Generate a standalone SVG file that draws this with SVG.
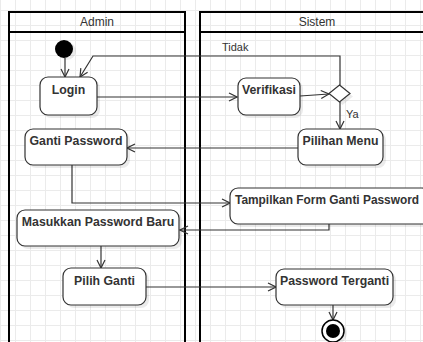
<svg xmlns="http://www.w3.org/2000/svg" width="423" height="342" viewBox="0 0 423 342">
<defs>
<pattern id="grid" width="15" height="15" patternUnits="userSpaceOnUse" x="0" y="10">
<path d="M0 0.5 H15 M0.5 0 V15" fill="none" stroke="#ebebeb" stroke-width="1"/>
</pattern>
<marker id="arr" markerWidth="10" markerHeight="10" refX="9" refY="5" orient="auto" markerUnits="userSpaceOnUse">
<path d="M1 1 L9 5 L1 9" fill="none" stroke="#333" stroke-width="1.2"/>
</marker>
</defs>
<style>
.lane{fill:none;stroke:#000;stroke-width:2}
.hdr{font-family:"Liberation Sans",Arial,sans-serif;font-size:12px;fill:#333;text-anchor:middle}
.box{fill:#fff;stroke:#333;stroke-width:1.2}
.sh{fill:#000;opacity:0.08}
.lbl{font-family:"Liberation Sans",Arial,sans-serif;font-size:12.3px;font-weight:bold;fill:#333;text-anchor:middle}
.sm{font-family:"Liberation Sans",Arial,sans-serif;font-size:11px;fill:#333}
.edge{fill:none;stroke:#333;stroke-width:1.2;marker-end:url(#arr)}
</style>
<rect width="423" height="342" fill="#fff"/>
<rect width="423" height="342" fill="url(#grid)"/>
<g id="lane-admin">
<rect class="lane" x="9" y="12" width="176" height="340"/>
<line class="lane" x1="9" y1="32" x2="185" y2="32"/>
<text class="hdr" x="97" y="26">Admin</text>
</g>
<g id="lane-sistem">
<rect class="lane" x="200" y="12" width="240" height="340"/>
<line class="lane" x1="200" y1="32" x2="440" y2="32"/>
<text class="hdr" x="317" y="26">Sistem</text>
</g>
<g id="connectors">
<line class="edge" x1="65" y1="58" x2="65" y2="77"/>
<path class="edge" d="M340 85 V56 H93 L80 77"/>
<text class="sm" x="222" y="51">Tidak</text>
<line class="edge" x1="97" y1="97" x2="237" y2="97"/>
<line class="edge" x1="300" y1="96" x2="329" y2="94"/>
<line class="edge" x1="340" y1="102" x2="340" y2="129"/>
<text class="sm" x="346" y="118">Ya</text>
<line class="edge" x1="298" y1="148" x2="127" y2="148"/>
<path class="edge" d="M72 165 V203 H230"/>
<path class="edge" d="M329 224 V230 H180"/>
<line class="edge" x1="101" y1="246" x2="101" y2="268"/>
<line class="edge" x1="146" y1="287" x2="276" y2="287"/>
<line class="edge" x1="333" y1="305" x2="333" y2="320"/>
</g>
<g id="start">
<circle cx="67" cy="51" r="9" class="sh"/>
<circle cx="64" cy="49" r="9" fill="#000"/>
</g>
<g id="login">
<rect class="sh" x="43" y="80" width="57" height="38" rx="8"/>
<rect class="box" x="40" y="77" width="57" height="38" rx="8"/>
<text class="lbl" x="68.5" y="94">Login</text>
</g>
<g id="verifikasi">
<rect class="sh" x="241" y="81" width="62" height="37" rx="8"/>
<rect class="box" x="238" y="78" width="62" height="37" rx="8"/>
<text class="lbl" x="269" y="94">Verifikasi</text>
</g>
<g id="decision">
<path class="sh" d="M342.5 88 L353 96.5 L342.5 105 L332 96.5 Z"/>
<path class="box" d="M339.5 85 L350 93.5 L339.5 102 L329 93.5 Z"/>
</g>
<g id="pilihan-menu">
<rect class="sh" x="301" y="132" width="85" height="36" rx="8"/>
<rect class="box" x="298" y="129" width="85" height="36" rx="8"/>
<text class="lbl" x="340.5" y="145">Pilihan Menu</text>
</g>
<g id="ganti-password">
<rect class="sh" x="28" y="132" width="102" height="36" rx="8"/>
<rect class="box" x="25" y="129" width="102" height="36" rx="8"/>
<text class="lbl" x="76" y="145">Ganti Password</text>
</g>
<g id="tampilkan-form">
<rect class="sh" x="233" y="191" width="200" height="36" rx="8"/>
<rect class="box" x="230" y="188" width="200" height="36" rx="8"/>
<text class="lbl" x="235" y="204" style="text-anchor:start;font-size:11.9px">Tampilkan Form Ganti Password</text>
</g>
<g id="masukkan-password">
<rect class="sh" x="20" y="213" width="162" height="36" rx="8"/>
<rect class="box" x="17" y="210" width="162" height="36" rx="8"/>
<text class="lbl" x="98" y="226">Masukkan Password Baru</text>
</g>
<g id="pilih-ganti">
<rect class="sh" x="66" y="271" width="83" height="37" rx="8"/>
<rect class="box" x="63" y="268" width="83" height="37" rx="8"/>
<text class="lbl" x="104.5" y="285">Pilih Ganti</text>
</g>
<g id="password-terganti">
<rect class="sh" x="279" y="272" width="117" height="36" rx="8"/>
<rect class="box" x="276" y="269" width="117" height="36" rx="8"/>
<text class="lbl" x="334.5" y="285">Password Terganti</text>
</g>
<g id="end">
<circle cx="336" cy="333" r="11" class="sh"/>
<circle cx="333" cy="331" r="11" fill="#fff" stroke="#000" stroke-width="1.5"/>
<circle cx="333" cy="331" r="7" fill="#000"/>
</g>
</svg>
